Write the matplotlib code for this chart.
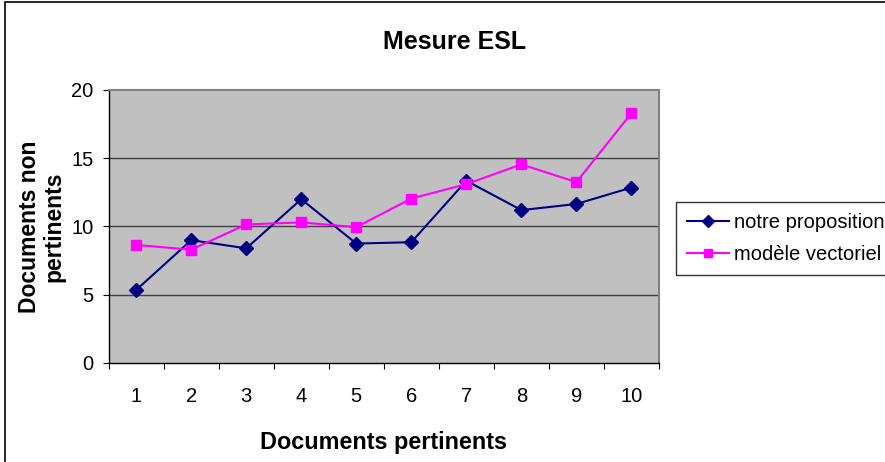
import matplotlib
matplotlib.use("Agg")
import matplotlib.pyplot as plt
import matplotlib.patches as patches
from matplotlib.ticker import MultipleLocator, FixedLocator

plt.rcParams['font.family'] = ['Liberation Sans', 'DejaVu Sans']

docs = [1, 2, 3, 4, 5, 6, 7, 8, 9, 10]
notre = [5.35, 9.0, 8.4, 12.0, 8.75, 8.85, 13.35, 11.2, 11.65, 12.85]
vectoriel = [8.65, 8.3, 10.15, 10.3, 9.95, 12.05, 13.1, 14.55, 13.25, 18.3]
y_ticks = [0, 5, 10, 15, 20]

fig = plt.figure(figsize=(8.85, 4.62), dpi=100)
ax = fig.add_axes([0.1228, 0.2143, 0.6218, 0.5909])
ax.set_facecolor('#c0c0c0')

for yv in y_ticks[1:-1]:
    ax.axhline(yv, color='#404040', lw=1.0, zorder=1)

ax.plot(docs, notre, color='#000080', marker='D', markersize=7, lw=1.5,
        label='notre proposition', zorder=3)
ax.plot(docs, vectoriel, color='#ff00ff', marker='s', markersize=7.5, lw=1.5,
        label='modèle vectoriel', zorder=3)

ax.set_xlim(0.5, 10.5)
ax.set_ylim(0, 20)
ax.xaxis.set_major_locator(MultipleLocator(1, offset=0.5))
ax.xaxis.set_minor_locator(FixedLocator(docs))
ax.set_xticklabels([], minor=False)
ax.set_xticklabels([str(d) for d in docs], minor=True)
ax.tick_params(axis='x', which='major', direction='out', length=4, color='#000000')
ax.tick_params(axis='x', which='minor', length=0, labelsize=14.5, pad=17)
ax.set_yticks(y_ticks)
ax.tick_params(axis='y', direction='out', length=4, labelsize=14.5, pad=7)

for s in ['top', 'right']:
    ax.spines[s].set_color('#808080')
    ax.spines[s].set_linewidth(1.5)
for s in ['left', 'bottom']:
    ax.spines[s].set_color('#000000')
    ax.spines[s].set_linewidth(1.0)

fig.text(0.514, 0.909, 'Mesure ESL', ha='center', va='center',
         fontsize=18, fontweight='bold')
fig.text(0.433, 1 - 449 / 462, 'Documents pertinents', ha='center', va='baseline',
         fontsize=16.8, fontweight='bold')
fig.text(0.047, 0.51, 'Documents non\npertinents', ha='center', va='center',
         rotation=90, fontsize=16.5, fontweight='bold', linespacing=1.05)

leg = fig.legend(loc='upper left', bbox_to_anchor=(676 / 885, 1 - 202 / 462),
                 fontsize=14.5, frameon=True, fancybox=False, handlelength=2.1,
                 borderpad=0.55, labelspacing=0.66, handletextpad=0.25,
                 borderaxespad=0, markerscale=0.85)
leg.get_frame().set_edgecolor('#000000')
leg.get_frame().set_linewidth(1.0)

border = patches.Rectangle((5 / 885, -0.05), 1.2, 1.05 - 1.5 / 462,
                           transform=fig.transFigure, fill=False,
                           edgecolor='#000000', lw=1.2, clip_on=False)
fig.patches.append(border)

fig.savefig('out.png', dpi=100)
